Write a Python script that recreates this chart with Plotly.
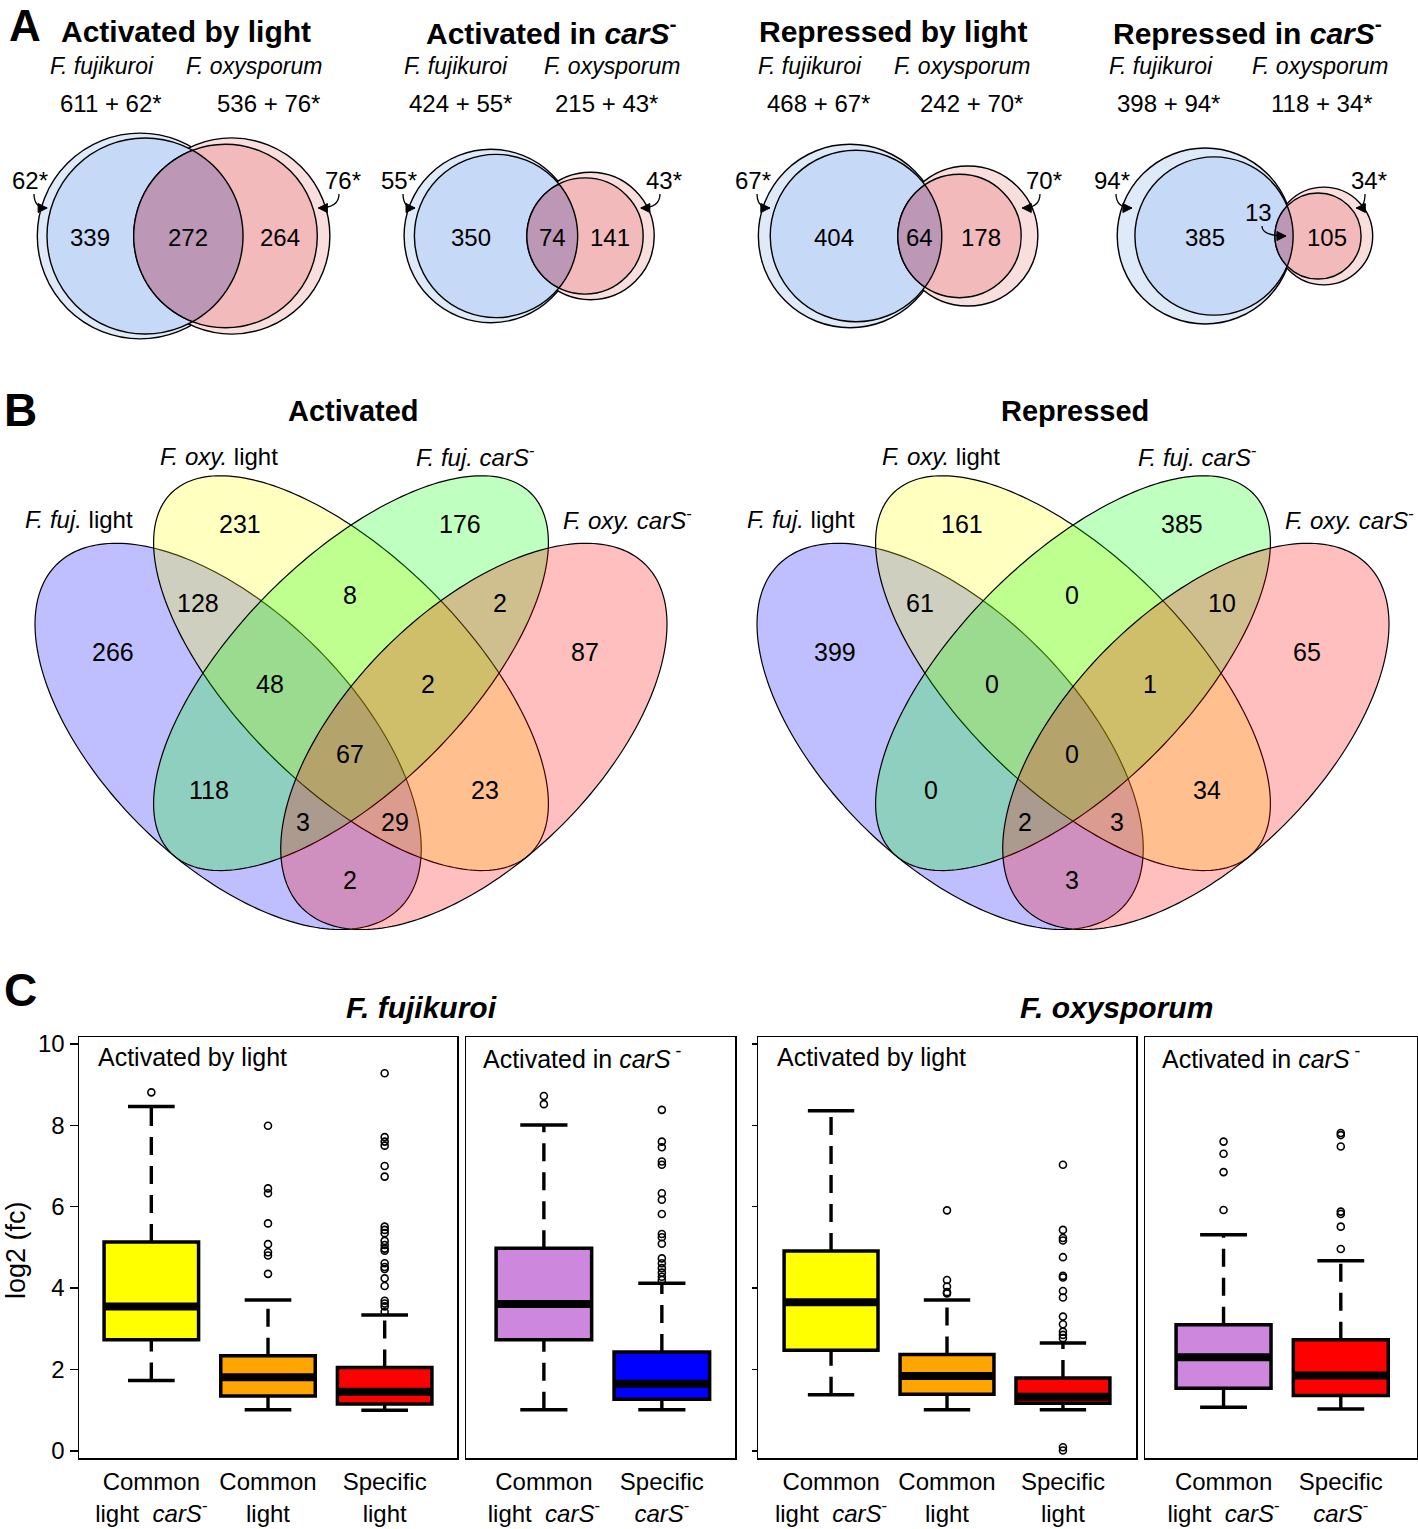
import math
import plotly.graph_objects as go

W, H = 1418, 1529
FONT = "Liberation Sans, Arial, Helvetica, sans-serif"

# ======================= DATA =======================
# ---- Panel A : two-set Venn diagrams ----
venn2_titles = ["Activated by light", "Activated in <i>carS</i><sup>-</sup>",
                "Repressed by light", "Repressed in <i>carS</i><sup>-</sup>"]
species_names = ["F. fujikuroi", "F. oxysporum"]
ffuj_listed = [611, 424, 468, 398]
ffuj_star = [62, 55, 67, 94]
foxy_listed = [536, 215, 242, 118]
foxy_star = [76, 43, 70, 34]
ffuj_only = [339, 350, 404, 385]
shared = [272, 74, 64, 13]
foxy_only = [264, 141, 178, 105]

# ---- Panel B : four-set Venn diagrams ----
venn4_titles = ["Activated", "Repressed"]
venn4_sets = ["<i>F. fuj.</i> light", "<i>F. oxy.</i> light",
              "<i>F. fuj. carS</i><sup>-</sup>", "<i>F. oxy. carS</i><sup>-</sup>"]
venn4_regions = ["1", "2", "3", "4", "12", "23", "34", "123", "234", "1234",
                 "13", "24", "134", "124", "14"]
activated_counts = [266, 231, 176, 87, 128, 8, 2, 48, 2, 67, 118, 23, 3, 29, 2]
repressed_counts = [399, 161, 385, 65, 61, 0, 10, 0, 1, 0, 0, 34, 2, 3, 3]

# ---- Panel C : box plots of log2 fold change ----
cat_light = ["Common<br>light\u00a0 <i>carS</i><sup>-</sup>", "Common<br>light", "Specific<br>light"]
cat_cars = ["Common<br>light\u00a0 <i>carS</i><sup>-</sup>", "Specific<br><i>carS</i><sup>-</sup>"]
panel_species = ["F. fujikuroi", "F. oxysporum"]
panel_titles = ["Activated by light", "Activated in <i>carS</i><sup> -</sup>",
                "Activated by light", "Activated in <i>carS</i><sup> -</sup>"]

# F. fujikuroi, activated by light
fl_q1 = [2.73, 1.35, 1.15]
fl_med = [3.55, 1.81, 1.45]
fl_q3 = [5.13, 2.34, 2.05]
fl_lo = [1.73, 1.01, 1.00]
fl_hi = [8.46, 3.71, 3.34]
fl_out = [[8.81],
          [7.99, 6.45, 6.33, 5.59, 5.08, 4.88, 4.80, 4.35],
          [9.28, 7.71, 7.60, 7.50, 7.00, 6.74, 5.51, 5.43, 5.35, 5.16, 5.06, 4.97,
           4.92, 4.61, 4.52, 4.47, 4.24, 4.05, 3.69, 3.62, 3.55, 3.42]]
# F. fujikuroi, activated in carS-
fc_q1 = [2.73, 1.27]
fc_med = [3.61, 1.65]
fc_q3 = [4.98, 2.43]
fc_lo = [1.01, 1.01]
fc_hi = [8.01, 4.12]
fc_out = [[8.72, 8.52],
          [8.38, 7.60, 7.46, 7.11, 7.03, 6.33, 6.17, 5.82, 5.33, 5.25, 5.09, 4.73,
           4.61, 4.49, 4.38, 4.28, 4.20]]
# F. oxysporum, activated by light
ol_q1 = [2.47, 1.39, 1.17]
ol_med = [3.65, 1.84, 1.33]
ol_q3 = [4.91, 2.37, 1.79]
ol_lo = [1.38, 1.01, 1.01]
ol_hi = [8.36, 3.71, 2.65]
ol_out = [[],
          [5.91, 4.20, 4.04, 3.90, 3.87],
          [7.03, 5.43, 5.23, 5.17, 4.76, 4.30, 4.26, 3.93, 3.77, 3.30, 3.11, 2.93,
           2.85, 2.77, 0.09, 0.01]]
# F. oxysporum, activated in carS-
oc_q1 = [1.54, 1.36]
oc_med = [2.30, 1.85]
oc_q3 = [3.10, 2.73]
oc_lo = [1.07, 1.03]
oc_hi = [5.31, 4.67]
oc_out = [[7.60, 7.30, 6.85, 5.92],
          [7.81, 7.76, 7.48, 5.88, 5.82, 5.51, 4.96]]

y_ticks = [0, 2, 4, 6, 8, 10]

# ======================= LAYOUT CONSTANTS =======================
XR, YR = "x5", "y5"   # full-figure pixel axis used for the Venn diagrams
A_CY = 236
A_BLUE_CX = [145, 496, 856, 1214]
A_DIST = [80.5, 89, 103.5, 104]
A_K = 3.965
A_TITLE_X = [186, 551, 893, 1247]
A_SPEC_X = [(102, 254), (456, 612), (810, 962), (1161, 1320)]
A_COUNT_X = [(111, 268), (460, 606), (818, 971), (1168, 1322)]
A_STAR_X = [(30, 343), (399, 664), (753, 1044), (1112, 1369)]
C_OUT_BLUE, C_IN_BLUE = "#DFEAF8", "#C6DAF7"
C_OUT_RED, C_IN_RED = "#F9DEDE", "#F2BABA"
C_LENS = "#BC98B6"

B_S = 727
B_CX = [351, 1073]
B_Y0 = 1089
B_ELL = [(0.331, 0.485, 0.334, 0.172, 135.0),
         (0.500, 0.572, 0.350, 0.158, 135.0),
         (0.500, 0.572, 0.350, 0.158, 45.0),
         (0.669, 0.485, 0.334, 0.172, 45.0)]
B_FILLS = ["rgba(0,0,255,0.25)", "rgba(255,255,0,0.25)",
           "rgba(0,255,0,0.25)", "rgba(255,0,0,0.25)"]
B_REGION_POS = {"1": (-238, 652), "2": (-111, 524), "3": (109, 524), "4": (234, 652),
                "12": (-153, 603), "23": (-1, 595), "34": (149, 603),
                "123": (-81, 684), "234": (77, 684), "1234": (-1, 754),
                "13": (-142, 790), "24": (134, 790), "134": (-48, 822),
                "124": (44, 822), "14": (-1, 880)}
B_SET_POS = [(-272, 519), (-132, 456), (124, 456), (276, 519)]

shapes, annotations = [], []


def txt(x, y, text, size, bold=False, xanchor="center", yanchor="middle", angle=0):
    if bold:
        text = f"<b>{text}</b>"
    annotations.append(dict(x=x, y=y, xref=XR, yref=YR, text=text, showarrow=False,
                            xanchor=xanchor, yanchor=yanchor, textangle=angle, borderpad=0,
                            font=dict(family=FONT, size=size, color="black")))


def circle(cx, cy, r, fill):
    shapes.append(dict(type="circle", xref=XR, yref=YR, x0=cx - r, x1=cx + r,
                       y0=cy - r, y1=cy + r, fillcolor=fill,
                       line=dict(color="black", width=1.4)))


def lens_path(ax, bx, cy, ra, rb, n=40):
    d = bx - ax
    xi = (d * d + ra * ra - rb * rb) / (2 * d)
    h = math.sqrt(max(ra * ra - xi * xi, 0))
    beta = math.atan2(h, d - xi)
    gam = math.atan2(h, xi)
    pts = []
    for i in range(n + 1):
        p = math.pi - beta + 2 * beta * i / n
        pts.append((bx + rb * math.cos(p), cy + rb * math.sin(p)))
    for i in range(n + 1):
        p = -gam + 2 * gam * i / n
        pts.append((ax + ra * math.cos(p), cy + ra * math.sin(p)))
    return "M " + " L ".join(f"{x:.2f},{y:.2f}" for x, y in pts) + " Z"


def curved_arrow(sx, sy, ex, ey):
    shapes.append(dict(type="path", xref=XR, yref=YR,
                       path=f"M {sx},{sy} Q {sx},{ey} {ex},{ey}",
                       line=dict(color="black", width=1.3)))
    dirx = 1 if ex > sx else -1
    L, hw = 9, 4.5
    shapes.append(dict(type="path", xref=XR, yref=YR,
                       path=f"M {ex},{ey} L {ex - dirx * L},{ey - hw} L {ex - dirx * L},{ey + hw} Z",
                       fillcolor="black", line=dict(color="black", width=1)))


# ======================= PANEL A =======================
txt(25, 0, "A", 44, bold=True, yanchor="top")
for i in range(4):
    rb = A_K * math.sqrt(ffuj_listed[i])
    rbo = A_K * math.sqrt(ffuj_listed[i] + ffuj_star[i])
    rr = A_K * math.sqrt(foxy_listed[i])
    rro = A_K * math.sqrt(foxy_listed[i] + foxy_star[i])
    bx = A_BLUE_CX[i]
    rx = bx + A_DIST[i]
    bxo = bx - (rbo - rb)
    rxo = rx + (rro - rr)
    circle(bxo, A_CY, rbo, C_OUT_BLUE)
    circle(rxo, A_CY, rro, C_OUT_RED)
    circle(bx, A_CY, rb, C_IN_BLUE)
    circle(rx, A_CY, rr, C_IN_RED)
    shapes.append(dict(type="path", xref=XR, yref=YR, path=lens_path(bx, rx, A_CY, rb, rr),
                       fillcolor=C_LENS, line=dict(color="black", width=1.4)))

    txt(A_TITLE_X[i], 31, venn2_titles[i], 30, bold=True)
    txt(A_SPEC_X[i][0], 66, f"<i>{species_names[0]}</i>", 23)
    txt(A_SPEC_X[i][1], 66, f"<i>{species_names[1]}</i>", 23)
    txt(A_COUNT_X[i][0], 103, f"{ffuj_listed[i]} + {ffuj_star[i]}*", 24)
    txt(A_COUNT_X[i][1], 103, f"{foxy_listed[i]} + {foxy_star[i]}*", 24)

    lens_l, lens_r = rx - rr, bx + rb
    txt((bx - rb + lens_l) / 2, A_CY + 1, str(ffuj_only[i]), 24)
    txt((lens_r + rx + rr) / 2, A_CY + 1, str(foxy_only[i]), 24)
    if lens_r - lens_l > 30:
        txt((lens_l + lens_r) / 2, A_CY + 1, str(shared[i]), 24)
    else:
        lx = lens_l - 16
        txt(lx, 212, str(shared[i]), 24)
        curved_arrow(lx + 3, 226, lens_l + 11, A_CY)

    # starred-gene arrows
    ry = A_CY - 28
    lmid = ((bxo - math.sqrt(rbo ** 2 - 28 ** 2)) + (bx - math.sqrt(rb ** 2 - 28 ** 2))) / 2
    rmid = ((rxo + math.sqrt(rro ** 2 - 28 ** 2)) + (rx + math.sqrt(rr ** 2 - 28 ** 2))) / 2
    lsx, rsx = A_STAR_X[i]
    txt(lsx, 180, f"{ffuj_star[i]}*", 24)
    txt(rsx, 180, f"{foxy_star[i]}*", 24)
    curved_arrow(lsx + 4, 194, lmid + 1, ry)
    curved_arrow(rsx - 4, 194, rmid - 1, ry)

# ======================= PANEL B =======================
txt(20, 410, "B", 46, bold=True)


def ellipse_path(CX, e, n=220):
    cx, cy, a, b, th = e
    t0 = math.radians(th)
    pts = []
    for i in range(n):
        t = 2 * math.pi * i / n
        x = cx + a * math.cos(t) * math.cos(t0) - b * math.sin(t) * math.sin(t0)
        y = cy + a * math.cos(t) * math.sin(t0) + b * math.sin(t) * math.cos(t0)
        pts.append(f"{CX + (x - 0.5) * B_S:.2f},{B_Y0 - y * B_S:.2f}")
    return "M " + " L ".join(pts) + " Z"


for k, counts in enumerate([activated_counts, repressed_counts]):
    CX = B_CX[k]
    for e, fill in zip(B_ELL, B_FILLS):
        shapes.append(dict(type="path", xref=XR, yref=YR, path=ellipse_path(CX, e),
                           fillcolor=fill, line=dict(color="black", width=1.2)))
    txt(CX + 2, 411, venn4_titles[k], 29, bold=True)
    for (dx, y), lab in zip(B_SET_POS, venn4_sets):
        txt(CX + dx, y, lab, 24)
    for reg, val in zip(venn4_regions, counts):
        dx, y = B_REGION_POS[reg]
        txt(CX + dx, y, str(val), 25)

# ======================= PANEL C =======================
txt(20, 990, "C", 46, bold=True)
txt(421, 1007, f"<i>{panel_species[0]}</i>", 30, bold=True)
txt(1116, 1007, f"<i>{panel_species[1]}</i>", 30, bold=True)
txt(16, 1250, "log2 (fc)", 27, angle=-90)

panels = [
    dict(px=(79, 457), xr=(0.38, 3.62), cats=cat_light, cols=["#FFFF00", "#FFA500", "#FF0000"],
         q1=fl_q1, med=fl_med, q3=fl_q3, lo=fl_lo, hi=fl_hi, out=fl_out, tx=97),
    dict(px=(466, 735), xr=(0.34, 2.62), cats=cat_cars, cols=["#CD87DC", "#0000FF"],
         q1=fc_q1, med=fc_med, q3=fc_q3, lo=fc_lo, hi=fc_hi, out=fc_out, tx=482),
    dict(px=(758, 1136), xr=(0.37, 3.63), cats=cat_light, cols=["#FFFF00", "#FFA500", "#FF0000"],
         q1=ol_q1, med=ol_med, q3=ol_q3, lo=ol_lo, hi=ol_hi, out=ol_out, tx=776),
    dict(px=(1145, 1417), xr=(0.33, 2.65), cats=cat_cars, cols=["#CD87DC", "#FF0000"],
         q1=oc_q1, med=oc_med, q3=oc_q3, lo=oc_lo, hi=oc_hi, out=oc_out, tx=1161),
]
Y_TOP, Y_BOT = 1037, 1458
BOXW, CAPW = 0.81, 0.40

fig = go.Figure()
layout_axes = {}
for p, P in enumerate(panels, start=1):
    xa, ya = f"x{p}", f"y{p}"
    n = len(P["cats"])
    for j in range(n):
        pos = j + 1
        dash = dict(color="black", width=3.4, dash="18px,11px")
        fig.add_trace(go.Scatter(x=[pos, pos], y=[P["q3"][j], P["hi"][j]], mode="lines",
                                 line=dash, xaxis=xa, yaxis=ya, hoverinfo="skip", showlegend=False))
        fig.add_trace(go.Scatter(x=[pos, pos], y=[P["lo"][j], P["q1"][j]], mode="lines",
                                 line=dash, xaxis=xa, yaxis=ya, hoverinfo="skip", showlegend=False))
        fig.add_trace(go.Box(x=[pos], q1=[P["q1"][j]], median=[P["med"][j]], q3=[P["q3"][j]],
                             lowerfence=[P["q1"][j]], upperfence=[P["q3"][j]],
                             width=BOXW, whiskerwidth=0, fillcolor=P["cols"][j],
                             line=dict(color="black", width=3.5), boxpoints=False,
                             xaxis=xa, yaxis=ya, hoverinfo="skip", showlegend=False))
        fig.add_trace(go.Scatter(x=[pos - BOXW / 2 + 0.01, pos + BOXW / 2 - 0.01],
                                 y=[P["med"][j]] * 2, mode="lines",
                                 line=dict(color="black", width=8), xaxis=xa, yaxis=ya,
                                 hoverinfo="skip", showlegend=False))
        for v in (P["hi"][j], P["lo"][j]):
            fig.add_trace(go.Scatter(x=[pos - CAPW / 2, pos + CAPW / 2], y=[v, v], mode="lines",
                                     line=dict(color="black", width=3.5), xaxis=xa, yaxis=ya,
                                     hoverinfo="skip", showlegend=False))
        if P["out"][j]:
            fig.add_trace(go.Scatter(x=[pos] * len(P["out"][j]), y=P["out"][j], mode="markers",
                                     marker=dict(symbol="circle-open", size=7, color="black",
                                                 line=dict(width=1.6)),
                                     xaxis=xa, yaxis=ya, hoverinfo="skip", showlegend=False))
    x0, x1 = P["px"]
    layout_axes[f"xaxis{p}"] = dict(
        domain=[x0 / W, x1 / W], range=list(P["xr"]), anchor=ya, automargin=False,
        tickmode="array", tickvals=list(range(1, n + 1)), ticktext=P["cats"],
        ticks="outside", ticklen=2, tickcolor="rgba(0,0,0,0)",
        tickfont=dict(family=FONT, size=24, color="black"),
        showline=True, mirror=True, linecolor="black", linewidth=1.5,
        showgrid=False, zeroline=False, fixedrange=True)
    ydict = dict(domain=[1 - Y_BOT / H, 1 - Y_TOP / H], range=[-0.175, 10.17], anchor=xa,
                 automargin=False, tickmode="array", tickvals=y_ticks,
                 showline=True, mirror=True, linecolor="black", linewidth=1.5,
                 showgrid=False, zeroline=False, fixedrange=True,
                 tickfont=dict(family=FONT, size=24, color="black"))
    if p == 1:
        ydict.update(ticks="outside", ticklen=8, tickwidth=1.5, tickcolor="black", showticklabels=True)
    elif p == 3:
        ydict.update(ticks="outside", ticklen=5, tickwidth=1.5, tickcolor="black", showticklabels=False)
    else:
        ydict.update(ticks="", showticklabels=False)
    layout_axes[f"yaxis{p}"] = ydict
    txt(P["tx"], 1057, panel_titles[p - 1], 25, xanchor="left")

# invisible anchor trace for the pixel overlay axis
fig.add_trace(go.Scatter(x=[0], y=[0], mode="markers", marker=dict(opacity=0),
                         xaxis="x5", yaxis="y5", hoverinfo="skip", showlegend=False))
layout_axes["xaxis5"] = dict(domain=[0, 1], range=[0, W], visible=False, anchor="y5",
                             fixedrange=True, automargin=False)
layout_axes["yaxis5"] = dict(domain=[0, 1], range=[H, 0], visible=False, anchor="x5",
                             fixedrange=True, automargin=False)

fig.update_layout(width=W, height=H, margin=dict(l=0, r=0, t=0, b=0, autoexpand=False),
                  paper_bgcolor="white", plot_bgcolor="rgba(0,0,0,0)",
                  showlegend=False, shapes=shapes, annotations=annotations,
                  font=dict(family=FONT, color="black"), **layout_axes)
fig.write_html("out.html", config={"displayModeBar": False, "staticPlot": True},
               post_script="document.body.style.margin='0';document.body.style.overflow='hidden';")
